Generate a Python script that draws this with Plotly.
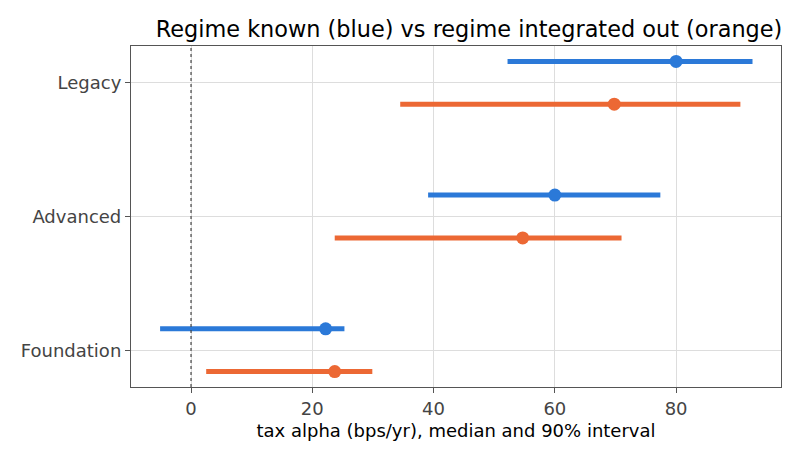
import plotly.graph_objects as go

# tiers, bottom to top
tiers = ["Foundation", "Advanced", "Legacy"]

# regime known (blue)
known_lo = [-5.1, 39.1, 52.2]
known_med = [22.2, 60.0, 80.0]
known_hi = [25.3, 77.4, 92.6]

# regime integrated out (orange)
integ_lo = [2.5, 23.7, 34.5]
integ_med = [23.7, 54.7, 69.8]
integ_hi = [29.9, 71.0, 90.6]

BLUE = "#2b79d8"
ORANGE = "#ec6834"
OFFSET = 0.16

fig = go.Figure()

def add_series(lo, med, hi, shift, color):
    for i in range(len(tiers)):
        y = i + shift
        fig.add_trace(go.Scatter(x=[lo[i], hi[i]], y=[y, y], mode="lines",
                                 line=dict(color=color, width=5),
                                 showlegend=False, hoverinfo="skip"))
    fig.add_trace(go.Scatter(x=med, y=[i + shift for i in range(len(tiers))],
                             mode="markers", marker=dict(color=color, size=13),
                             showlegend=False))

add_series(known_lo, known_med, known_hi, OFFSET, BLUE)
add_series(integ_lo, integ_med, integ_hi, -OFFSET, ORANGE)

# zero reference
fig.add_vline(x=0, line=dict(color="#444", width=1.2, dash="dot"))

fig.update_layout(
    width=800, height=459,
    margin=dict(l=131, r=19, t=46, b=72),
    plot_bgcolor="white", paper_bgcolor="white",
    font=dict(family="DejaVu Sans", size=18, color="#444"),
    title=dict(text="Regime known (blue) vs regime integrated out (orange)",
               x=0.52, xanchor="center", xref="paper",
               y=0.937, yanchor="middle", yref="container",
               font=dict(size=22.4, color="black")),
)
fig.update_xaxes(range=[-9.9, 97.3], tickvals=[0, 20, 40, 60, 80],
                 showgrid=True, gridcolor="#dddddd", zeroline=False,
                 showline=True, linecolor="#555", linewidth=1.2, mirror=True,
                 ticks="outside", ticklen=5, tickcolor="#555",
                 title=dict(text="tax alpha (bps/yr), median and 90% interval",
                            font=dict(size=18, color="black"), standoff=6))
fig.update_yaxes(range=[-0.275, 2.275], tickvals=[0, 1, 2], ticktext=tiers,
                 showgrid=True, gridcolor="#dddddd", zeroline=False,
                 showline=True, linecolor="#555", linewidth=1.2, mirror=True,
                 ticks="outside", ticklen=5, tickcolor="#555")

fig.write_html("out.html", config={"displayModeBar": False},
               post_script="document.body.style.margin='0';")
